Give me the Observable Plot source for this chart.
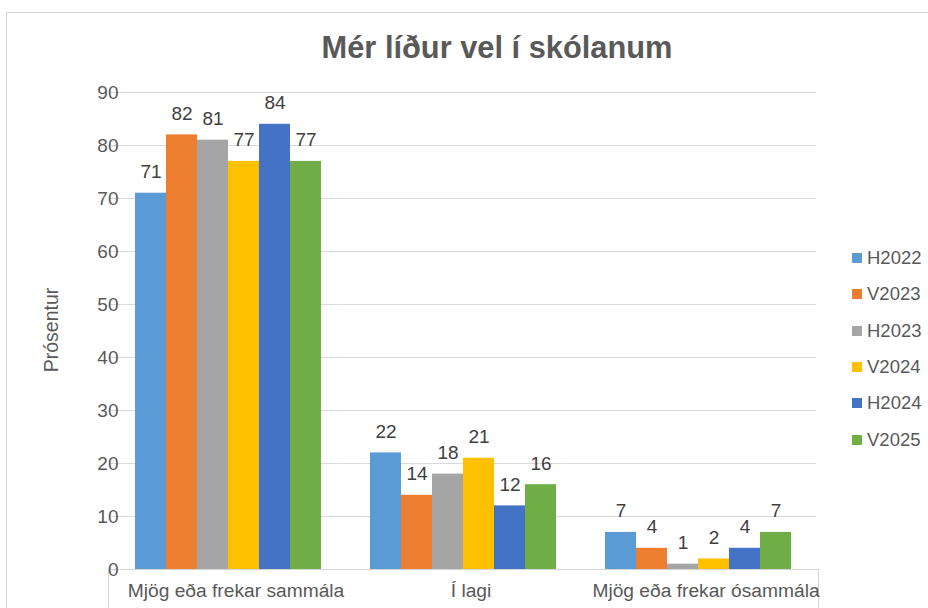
<!DOCTYPE html>
<html><head><meta charset="utf-8">
<script src="https://cdn.jsdelivr.net/npm/d3@7"></script>
<script src="https://cdn.jsdelivr.net/npm/@observablehq/plot@0.6"></script>
<style>
body{margin:0;background:#fff;font-family:"Liberation Sans",Arial,Helvetica,sans-serif;}
#wrap{position:relative;width:928px;height:608px;overflow:hidden;background:#fff;}
#frame{position:absolute;left:6px;top:12px;width:960px;height:640px;border-top:1px solid #d4d4d4;border-left:1px solid #d4d4d4;}
#title{position:absolute;left:197px;top:31px;width:600px;text-align:center;font-size:30.8px;line-height:34px;font-weight:bold;color:#595959;}
#ylab{position:absolute;left:51px;top:330px;transform:translate(-50%,-50%) rotate(-90deg);font-size:19.5px;color:#595959;white-space:nowrap;}
#chart{position:absolute;left:0;top:70px;}
#box{position:absolute;left:108px;top:569px;width:709px;height:60px;border:1px solid #d4d4d4;border-bottom:none;}
#legend{position:absolute;left:852px;top:240px;}
.li{display:flex;align-items:center;height:36.3px;font-size:18.5px;color:#595959;}
.sw{width:10px;height:10px;margin-right:5px;}
</style></head>
<body>
<div id="wrap">
  <div id="frame"></div>
  <div id="box"></div>
  <div id="title">Mér líður vel í skólanum</div>
  <div id="ylab">Prósentur</div>
  <div id="chart"></div>
  <div id="legend"></div>
</div>
<script>
const categories = ["Mjög eða frekar sammála", "Í lagi", "Mjög eða frekar ósammála"];
const series = ["H2022", "V2023", "H2023", "V2024", "H2024", "V2025"];
const colors = ["#5B9BD5", "#ED7D31", "#A5A5A5", "#FFC000", "#4472C4", "#70AD47"];
const H2022 = [71, 22, 7];
const V2023 = [82, 14, 4];
const H2023 = [81, 18, 1];
const V2024 = [77, 21, 2];
const H2024 = [84, 12, 4];
const V2025 = [77, 16, 7];
const yTicks = [0, 10, 20, 30, 40, 50, 60, 70, 80, 90];

const values = {H2022, V2023, H2023, V2024, H2024, V2025};
const data = [];
categories.forEach((c, i) => series.forEach(s => data.push({category: c, series: s, value: values[s][i]})));

const font = '"Liberation Sans", Arial, Helvetica, sans-serif';
const chart = Plot.plot({
  width: 928,
  height: 538,
  marginTop: 22,
  marginBottom: 39,
  marginLeft: 108,
  marginRight: 110,
  style: {fontFamily: font, fontSize: "19px", background: "transparent", overflow: "visible"},
  fx: {domain: categories, paddingInner: 0.203, paddingOuter: 0.106, label: null},
  x: {domain: series, axis: null, padding: 0},
  y: {domain: [0, 90], label: null},
  color: {domain: series, range: colors},
  marks: [
    Plot.ruleY(yTicks.filter(d => d > 0), {stroke: "#d9d9d9", insetLeft: -25, insetRight: -25}),
    Plot.axisY(yTicks, {tickSize: 0, tickPadding: 16, fontSize: 19, fill: "#595959", label: null}),
    Plot.axisFx({anchor: "bottom", tickSize: 0, tickPadding: 14, dx: 8, fontSize: 19.2, fill: "#595959", label: null}),
    Plot.barY(data, {fx: "category", x: "series", y: "value", fill: "series"}),
    Plot.text(data, {fx: "category", x: "series", y: "value", text: d => String(d.value), dy: -21, fontSize: 19, fill: "#404040"})
  ]
});
document.getElementById("chart").appendChild(chart);

const legend = document.getElementById("legend");
series.forEach((s, i) => {
  const row = document.createElement("div");
  row.className = "li";
  row.innerHTML = `<span class="sw" style="background:${colors[i]}"></span><span>${s}</span>`;
  legend.appendChild(row);
});
</script>
</body></html>
